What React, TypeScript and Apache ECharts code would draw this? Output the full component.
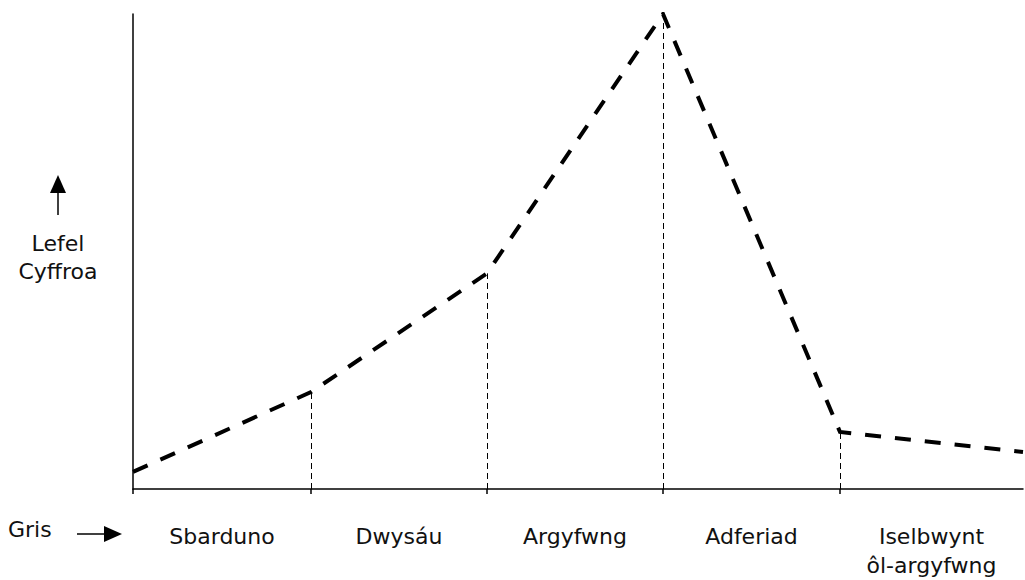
import React, { useEffect, useRef } from "react";
import * as echarts from "echarts";

// Stage boundaries along the time axis (arbitrary units) and arousal level at each boundary
const boundaries = [0, 178, 354, 530, 707, 890];
const arousal = [3.6, 20.4, 45.4, 100, 12, 7.8];
const stages = ["Sbarduno", "Dwysáu", "Argyfwng", "Adferiad", "Iselbwynt\nôl-argyfwng"];
const yLabel = "Lefel\nCyffroa";
const xLabel = "Gris";

const FONT = "DejaVu Sans";
const FS = 22;

export default function App() {
  const ref = useRef<HTMLDivElement>(null);
  useEffect(() => {
    const chart = echarts.init(ref.current!, null, { renderer: "svg" });
    const points = boundaries.map((b, i) => [b, arousal[i]]);
    const mids = stages.map((_, i) => (boundaries[i] + boundaries[i + 1]) / 2);
    const drops = boundaries.slice(1, -1).map((b, k) => [
      { coord: [b, 0] },
      { coord: [b, arousal[k + 1]] },
    ]);
    chart.setOption({
      animation: false,
      grid: { left: 133, right: 2, top: 14, bottom: 90, containLabel: false },
      xAxis: {
        type: "value",
        min: boundaries[0],
        max: boundaries[boundaries.length - 1],
        splitLine: { show: false },
        axisLine: { show: true, onZero: false, lineStyle: { color: "#000", width: 1.5 } },
        axisTick: {
          show: true,
          customValues: boundaries.slice(0, -1),
          length: 5,
          lineStyle: { color: "#000", width: 1.5 },
        },
        axisLabel: {
          show: true,
          customValues: mids,
          formatter: (v: number) => {
            const i = mids.findIndex((m) => Math.abs(m - v) < 1e-6);
            return i >= 0 ? stages[i] : "";
          },
          margin: 33,
          color: "#111",
          fontFamily: FONT,
          fontSize: FS,
          lineHeight: 29,
        },
      },
      yAxis: {
        type: "value",
        min: 0,
        max: 100,
        splitLine: { show: false },
        axisLine: { show: true, lineStyle: { color: "#000", width: 1.5 } },
        axisTick: { show: false },
        axisLabel: { show: false },
      },
      graphic: [
        {
          type: "text",
          left: 8,
          top: 518,
          style: { text: xLabel, fontFamily: FONT, fontSize: FS, fill: "#111" },
        },
        {
          type: "line",
          shape: { x1: 77, y1: 534, x2: 105, y2: 534 },
          style: { stroke: "#000", lineWidth: 1.5 },
        },
        {
          type: "polygon",
          shape: { points: [[104, 526], [122, 534], [104, 542]] },
          style: { fill: "#000" },
        },
        {
          type: "line",
          shape: { x1: 58, y1: 192, x2: 58, y2: 215 },
          style: { stroke: "#000", lineWidth: 1.5 },
        },
        {
          type: "polygon",
          shape: { points: [[50, 193], [58, 175], [66, 193]] },
          style: { fill: "#000" },
        },
        {
          type: "text",
          x: 58,
          y: 229,
          style: {
            text: yLabel,
            fontFamily: FONT,
            fontSize: FS,
            lineHeight: 28,
            align: "center",
            verticalAlign: "top",
            fill: "#111",
          },
        },
      ],
      series: [
        {
          type: "line",
          data: points,
          symbol: "none",
          lineStyle: { color: "#000", width: 4, type: [16, 14], join: "miter" },
          markLine: {
            silent: true,
            symbol: ["none", "none"],
            label: { show: false },
            lineStyle: { color: "#000", width: 1, type: [6, 4] },
            data: drops,
          },
        },
      ],
    });
    return () => chart.dispose();
  }, []);
  return <div ref={ref} style={{ width: 1025, height: 580, position: "absolute", left: 0, top: 0 }} />;
}
